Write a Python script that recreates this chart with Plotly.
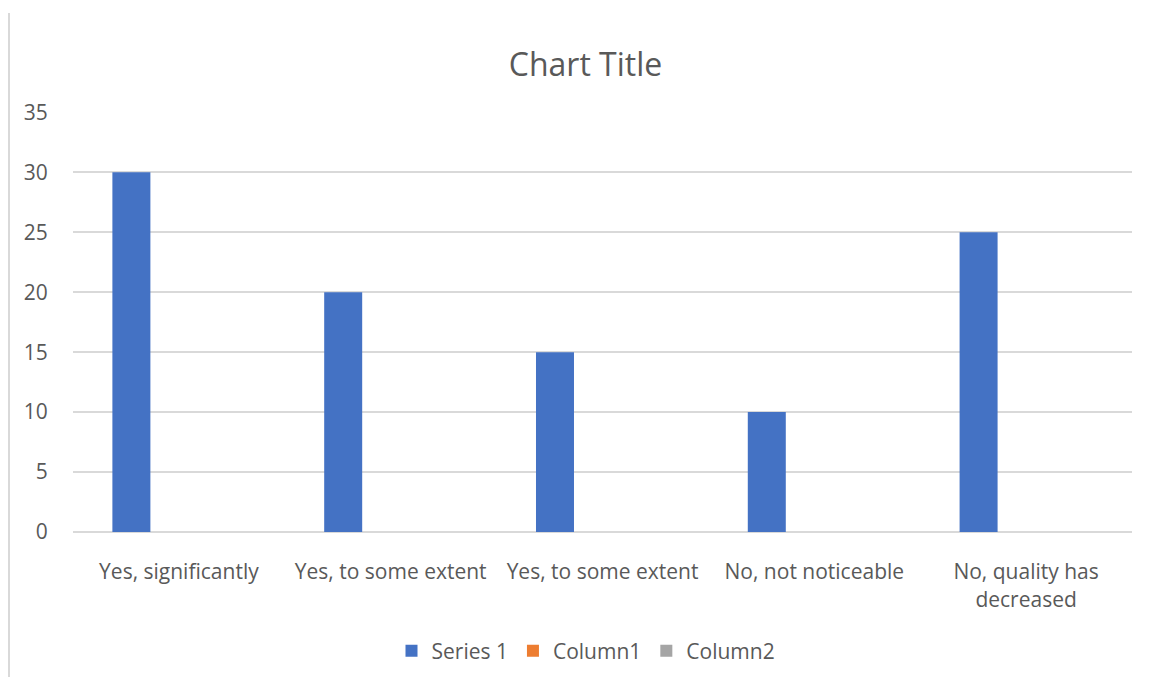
import plotly.graph_objects as go

# Survey answers (two answers share the same wording, so positions are numeric)
categories = [
    "Yes, significantly",
    "Yes, to some extent",
    "Yes, to some extent",
    "No, not noticeable",
    "No, quality has<br>decreased",
]
series_1 = [30, 20, 15, 10, 25]
column_1 = [None, None, None, None, None]
column_2 = [None, None, None, None, None]
y_ticks = [0, 5, 10, 15, 20, 25, 30, 35]

positions = list(range(len(categories)))

TEXT = "#595959"
GRID = "#d9d9d9"
FONT = "Open Sans"

# clustered column geometry: three slots per category, slight gap between slots
bar_w = 0.1794
slot_gap = 0.0448
group_left = -0.314

series = [
    ("Series 1", series_1, "#4472C4"),
    ("Column1", column_1, "#ED7D31"),
    ("Column2", column_2, "#A5A5A5"),
]

fig = go.Figure()
for i, (name, vals, color) in enumerate(series):
    fig.add_trace(go.Bar(
        x=positions,
        y=vals,
        name=name,
        marker=dict(color=color, line=dict(width=0)),
        width=bar_w,
        offset=group_left + i * (bar_w + slot_gap),
        hoverinfo="x+y+name",
    ))

fig.update_layout(
    width=1154,
    height=677,
    margin=dict(l=73, r=22, t=112, b=145, autoexpand=False),
    paper_bgcolor="white",
    plot_bgcolor="white",
    barmode="overlay",
    font=dict(family=FONT, color=TEXT, size=21),
    title=dict(
        text="Chart Title",
        xref="container",
        x=585.5 / 1154,
        xanchor="center",
        yref="container",
        y=1 - 65 / 677,
        yanchor="middle",
        font=dict(family=FONT, size=32, color=TEXT),
    ),
    showlegend=True,
    legend=dict(
        orientation="h",
        xref="container",
        x=586 / 1154,
        xanchor="center",
        yref="container",
        y=1 - 651 / 677,
        yanchor="middle",
        font=dict(family=FONT, size=21, color=TEXT),
        traceorder="normal",
        itemwidth=30,
    ),
    xaxis=dict(
        range=[-0.5, 4.5],
        tickvals=positions,
        ticktext=categories,
        showgrid=False,
        zeroline=False,
        showline=False,
        automargin=False,
        ticks="outside",
        ticklen=21,
        tickcolor="rgba(0,0,0,0)",
        tickfont=dict(family=FONT, size=21, color=TEXT),
        fixedrange=True,
    ),
    yaxis=dict(
        range=[0, 35.03],
        tickvals=y_ticks,
        showgrid=True,
        gridcolor=GRID,
        gridwidth=1.5,
        zeroline=True,
        zerolinecolor=GRID,
        zerolinewidth=2,
        showline=False,
        automargin=False,
        ticks="outside",
        ticklen=20,
        tickcolor="rgba(0,0,0,0)",
        tickfont=dict(family=FONT, size=21, color=TEXT),
        fixedrange=True,
    ),
)

# chart frame edge on the left
fig.add_shape(
    type="line",
    xref="paper", yref="paper",
    x0=(9 - 73) / 1059, x1=(9 - 73) / 1059,
    y0=(532 - 13) / 420, y1=(532 - 690) / 420,
    line=dict(color=GRID, width=2),
    layer="below",
)

fig.write_html("out.html")
